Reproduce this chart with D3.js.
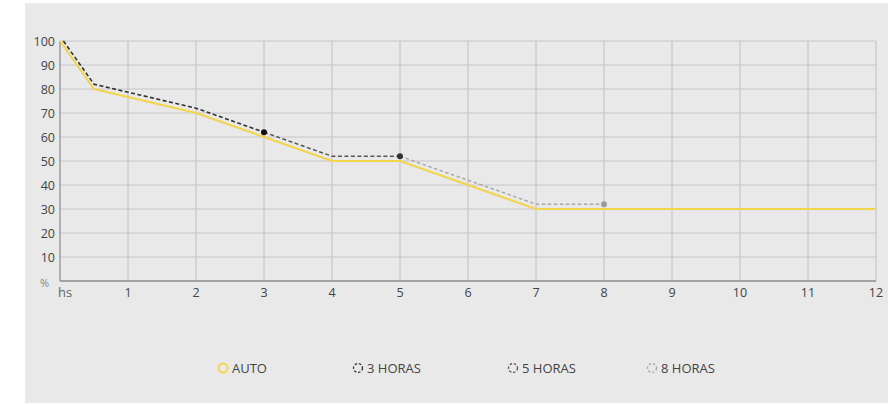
<!DOCTYPE html>
<html><head><meta charset="utf-8">
<script src="https://cdn.jsdelivr.net/npm/d3@7"></script>
<style>body{margin:0;background:#fff}svg{display:block}text{font-family:"Open Sans","Noto Sans",sans-serif}</style>
</head><body><svg id="c" width="894" height="404"></svg>
<script>
const xTicks = [1,2,3,4,5,6,7,8,9,10,11,12];
const yTicks = [10,20,30,40,50,60,70,80,90,100];
const autoHours = [0,0.5,2,3,4,5,6,7,12];
const autoVals  = [100,80,70,60,50,50,40,30,30];
const h3Hours = [0.05,0.5,2,3];
const h3Vals  = [100,82,72,62];
const h5Hours = [3,4,5];
const h5Vals  = [62,52,52];
const h8Hours = [5,6,7,8];
const h8Vals  = [52,42,32,32];
const legendLabels = ["AUTO","3 HORAS","5 HORAS","8 HORAS"];
const colors = ["#f2d54c","#333333","#555555","#a8a8a8"];

const svg = d3.select("#c");
svg.append("rect").attr("x",25).attr("y",3).attr("width",863).attr("height",400).attr("fill","#e9e9e9");

const x = d3.scaleLinear().domain([0,12]).range([60,876]);
const y = d3.scaleLinear().domain([0,100]).range([281,41]);

// grid
svg.append("g").selectAll("line").data(yTicks).join("line")
  .attr("x1",60).attr("x2",876).attr("y1",d=>y(d)).attr("y2",d=>y(d))
  .attr("stroke","#c6c6c6").attr("stroke-width",1);
svg.append("g").selectAll("line").data(xTicks).join("line")
  .attr("y1",y(0)).attr("y2",y(100)).attr("x1",d=>x(d)).attr("x2",d=>x(d))
  .attr("stroke","#c0c0c0").attr("stroke-width",1);
// axes lines
svg.append("line").attr("x1",x(0)).attr("x2",x(0)).attr("y1",y(0)).attr("y2",y(100)).attr("stroke","#8a8a8a").attr("stroke-width",1.2);
svg.append("line").attr("x1",x(0)).attr("x2",x(12)).attr("y1",y(0)).attr("y2",y(0)).attr("stroke","#8a8a8a").attr("stroke-width",1.5);

// tick labels
svg.append("g").selectAll("text").data(yTicks).join("text")
  .attr("x",55).attr("y",d=>y(d)).attr("dy","0.38em").attr("text-anchor","end")
  .attr("font-size",12.5).attr("fill","#444").text(d=>d);
svg.append("g").selectAll("text").data(xTicks).join("text")
  .attr("x",d=>x(d)).attr("y",297).attr("text-anchor","middle")
  .attr("font-size",12.5).attr("fill","#444").text(d=>d);
svg.append("text").attr("x",40).attr("y",287).attr("font-size",11).attr("fill","#888").text("%");
svg.append("text").attr("x",58).attr("y",297).attr("font-size",13).attr("fill","#666").text("hs");

const line = d3.line().x(d=>x(d[0])).y(d=>y(d[1]));
const zip = (a,b)=>a.map((v,i)=>[v,b[i]]);

svg.append("path").datum(zip(autoHours,autoVals)).attr("d",line)
  .attr("fill","none").attr("stroke",colors[0]).attr("stroke-width",2);
svg.append("path").datum(zip(h3Hours,h3Vals)).attr("d",line)
  .attr("fill","none").attr("stroke",colors[1]).attr("stroke-width",1.6).attr("stroke-dasharray","4,2.5");
svg.append("path").datum(zip(h5Hours,h5Vals)).attr("d",line)
  .attr("fill","none").attr("stroke",colors[2]).attr("stroke-width",1.5).attr("stroke-dasharray","4,2.5");
svg.append("path").datum(zip(h8Hours,h8Vals)).attr("d",line)
  .attr("fill","none").attr("stroke",colors[3]).attr("stroke-width",1.5).attr("stroke-dasharray","3.5,2.5");

// end dots
const dots = [[h3Hours[h3Hours.length-1],h3Vals[h3Vals.length-1],"#111"],
              [h5Hours[h5Hours.length-1],h5Vals[h5Vals.length-1],"#333"],
              [h8Hours[h8Hours.length-1],h8Vals[h8Vals.length-1],"#9a9a9a"]];
svg.append("g").selectAll("circle").data(dots).join("circle")
  .attr("cx",d=>x(d[0])).attr("cy",d=>y(d[1])).attr("r",3).attr("fill",d=>d[2]);

// legend
const legX = [223,358,513,652];
const lg = svg.append("g").selectAll("g").data(legendLabels).join("g")
  .attr("transform",(d,i)=>`translate(${legX[i]},368)`);
lg.append("circle").attr("r",4.5).attr("fill","none")
  .attr("stroke",(d,i)=>colors[i]).attr("stroke-width",(d,i)=>i===0?2:1.3)
  .attr("stroke-dasharray",(d,i)=>i===0?null:"2.5,1.8");
lg.append("text").attr("x",9).attr("y",0).attr("dy","0.36em").attr("font-size",13)
  .attr("fill","#444").text(d=>d);
</script></body></html>
